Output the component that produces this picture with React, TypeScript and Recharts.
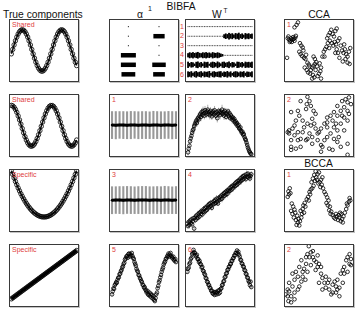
import React from 'react'
import { ScatterChart, Scatter, XAxis, YAxis, ErrorBar } from 'recharts'

// grid of small panels
const PW = 70
const PH = 63
const colLeft = [9, 109, 185, 284]
const rowTop = [19, 94, 169, 244]
const RED = '#e03c3c'
const INK = '#111'

// true components, sampled on a common grid
const curveX = [2, 4, 6, 8, 10, 12, 14, 16, 18, 20, 22, 24, 26, 28, 30, 32, 34, 36, 38, 40, 42, 44, 46, 48, 50, 52, 54, 56, 58, 60, 62, 64, 66, 68, 70, 72, 74, 76, 78, 80, 82, 84, 86, 88, 90, 92, 94, 96, 98]
const sharedA = [44.5, 51.8, 59.1, 65.9, 72.0, 77.1, 80.8, 83.2, 84.0, 83.2, 80.9, 77.1, 72.0, 65.9, 59.1, 51.8, 44.5, 37.4, 30.9, 25.3, 20.9, 17.8, 16.2, 16.2, 17.8, 20.9, 25.3, 30.9, 37.4, 44.5, 51.7, 59.1, 65.9, 72.0, 77.1, 80.8, 83.2, 84.0, 83.2, 80.9, 77.1, 72.0, 65.9, 59.1, 51.8, 44.5, 37.4, 30.9, 25.3]
const sharedB = [83.0, 82.2, 80.0, 76.4, 71.6, 65.7, 59.2, 52.2, 45.1, 38.1, 31.7, 26.2, 21.6, 18.3, 16.4, 16.0, 17.2, 19.8, 23.7, 28.8, 34.9, 41.6, 48.6, 55.7, 62.5, 68.8, 74.1, 78.4, 81.3, 82.8, 82.8, 81.3, 78.4, 74.1, 68.8, 62.5, 55.7, 48.6, 41.6, 34.9, 28.8, 23.7, 19.8, 17.2, 16.0, 16.4, 18.3, 21.6, 26.2]
const specificA = [99.0, 92.8, 86.9, 81.2, 75.8, 70.6, 65.8, 61.1, 56.8, 52.7, 48.9, 45.3, 42.0, 39.0, 36.2, 33.7, 31.4, 29.5, 27.8, 26.3, 25.1, 24.2, 23.5, 23.1, 23.0, 23.1, 23.5, 24.2, 25.1, 26.3, 27.8, 29.5, 31.4, 33.7, 36.2, 39.0, 42.0, 45.3, 48.9, 52.7, 56.8, 61.1, 65.8, 70.6, 75.8, 81.2, 86.9, 92.8, 99.0]
const specificB = [11.7, 13.3, 15.0, 16.6, 18.3, 19.9, 21.6, 23.2, 24.9, 26.5, 28.2, 29.8, 31.5, 33.1, 34.8, 36.4, 38.1, 39.7, 41.4, 43.0, 44.7, 46.3, 48.0, 49.6, 51.3, 52.9, 54.6, 56.2, 57.9, 59.5, 61.2, 62.8, 64.5, 66.1, 67.8, 69.4, 71.1, 72.7, 74.4, 76.0, 77.7, 79.3, 81.0, 82.6, 84.3, 85.9, 87.6, 89.2, 90.9]

// alpha (Hinton), two groups x six components
const alphaCol1 = [0.02, 0.02, 0.02, 1.0, 1.0, 0.92]
const alphaCol2 = [0.02, 0.75, 0.02, 0.02, 0.9, 0.78]

// W^T loadings per component
const wRow1 = [0.02, 0.03, 0.01, 0.02, 0.04, 0.02, 0.03, 0.01, 0.02, 0.03, 0.02, 0.01, 0.03, 0.02, 0.04, 0.02, 0.01, 0.03, 0.02, 0.02, 0.03, 0.01, 0.02, 0.04, 0.02, 0.03, 0.01, 0.02, 0.03, 0.02, 0.01, 0.03, 0.02, 0.04, 0.02, 0.01, 0.03, 0.02, 0.02, 0.03]
const wRow2 = [0.02, 0.01, 0.03, 0.02, 0.02, 0.04, 0.01, 0.02, 0.03, 0.02, 0.01, 0.02, 0.03, 0.02, 0.04, 0.01, 0.02, 0.03, 0.02, 0.01, 0.03, 0.02, 0.55, 0.8, 0.6, 0.95, 0.7, 0.85, 0.5, 0.9, 0.75, 1.0, 0.6, 0.8, 0.45, 0.9, 0.7, 0.85, 0.6, 0.75]
const wRow3 = [0.03, 0.02, 0.01, 0.03, 0.02, 0.02, 0.04, 0.01, 0.02, 0.03, 0.02, 0.02, 0.01, 0.03, 0.02, 0.04, 0.02, 0.01, 0.03, 0.02, 0.02, 0.03, 0.01, 0.02, 0.03, 0.02, 0.04, 0.01, 0.02, 0.03, 0.02, 0.02, 0.01, 0.03, 0.02, 0.04, 0.02, 0.01, 0.03, 0.02]
const wRow4 = [0.6, 0.85, 0.7, 0.9, 0.65, 0.8, 0.95, 0.7, 0.6, 0.85, 0.75, 0.9, 0.7, 0.8, 0.55, 0.9, 0.75, 0.65, 0.85, 0.7, 0.5, 0.35, 0.02, 0.03, 0.01, 0.02, 0.03, 0.02, 0.04, 0.01, 0.02, 0.03, 0.02, 0.01, 0.03, 0.02, 0.02, 0.03, 0.01, 0.02]
const wRow5 = [0.9, 0.5, 0.8, 0.7, 0.35, 0.85, 0.95, 0.6, 0.8, 0.4, 0.9, 0.75, 0.85, 0.3, 0.7, 0.9, 0.8, 0.55, 0.95, 0.7, 0.4, 0.85, 0.9, 0.6, 0.75, 0.95, 0.5, 0.8, 0.7, 0.35, 0.9, 0.85, 0.6, 0.8, 0.45, 0.9, 0.75, 0.85, 0.7, 0.9]
const wRow6 = [0.85, 0.7, 0.9, 0.45, 0.8, 0.95, 0.6, 0.75, 0.9, 0.5, 0.85, 0.7, 0.8, 0.95, 0.4, 0.8, 0.9, 0.65, 0.75, 0.85, 0.9, 0.5, 0.8, 0.7, 0.95, 0.6, 0.85, 0.4, 0.75, 0.9, 0.8, 0.55, 0.85, 0.7, 0.9, 0.45, 0.8, 0.75, 0.6, 0.85]

// inactive components 1 and 3: posterior mean and std
const alpha1Mean = [0.03, 0.02, 0.04, 0.03, 0.02, 0.03, 0.04, 0.02, 0.03, 0.03, 0.02, 0.04, 0.03, 0.02, 0.03, 0.04, 0.02, 0.03]
const alpha1Err = [1.0, 1.01, 0.99, 1.0, 1.0, 1.01, 0.99, 1.0, 1.0, 1.0, 0.99, 1.01, 1.0, 1.0, 0.99, 1.0, 1.01, 1.0]
const alpha3Mean = [0.02, 0.03, 0.03, 0.02, 0.04, 0.03, 0.02, 0.03, 0.03, 0.04, 0.02, 0.03, 0.03, 0.02, 0.04, 0.03, 0.02, 0.03]
const alpha3Err = [1.0, 0.99, 1.0, 1.01, 1.0, 1.0, 0.99, 1.0, 1.01, 1.0, 1.0, 0.99, 1.0, 1.0, 1.01, 1.0, 0.99, 1.0]

// recovered components: [x, y, std]
const alpha5Pts = [[3, 19, 3], [4, 24, 3], [5, 29, 2], [6, 28, 3], [7, 34, 2], [8, 36, 3], [9, 39, 2], [10, 38, 3], [11, 43, 2], [12, 46, 3], [13, 47, 2], [14, 52, 3], [15, 53, 2], [16, 57, 3], [17, 59, 2], [18, 63, 3], [19, 65, 3], [20, 69, 2], [21, 71, 3], [22, 76, 3], [23, 78, 2], [24, 81, 3], [25, 82, 3], [26, 79, 3], [27, 85, 2], [28, 86, 3], [29, 81, 3], [30, 85, 2], [31, 83, 3], [32, 87, 3], [33, 82, 2], [34, 79, 3], [35, 77, 3], [36, 72, 2], [37, 69, 3], [38, 66, 2], [39, 61, 3], [40, 58, 3], [41, 56, 2], [42, 51, 3], [43, 50, 2], [44, 46, 3], [45, 44, 2], [46, 41, 3], [47, 39, 2], [48, 35, 3], [49, 34, 2], [50, 30, 3], [51, 31, 2], [52, 27, 3], [53, 25, 2], [54, 22, 3], [55, 25, 2], [56, 19, 3], [57, 18, 2], [58, 22, 3], [59, 16, 2], [60, 20, 3], [61, 14, 2], [62, 18, 3], [63, 12, 2], [64, 16, 3], [65, 10, 3], [66, 8, 2], [67, 13, 3], [68, 19, 3], [69, 22, 2], [70, 29, 3], [71, 33, 2], [72, 39, 3], [73, 42, 2], [74, 47, 3], [75, 51, 2], [76, 56, 3], [77, 60, 2], [78, 63, 3], [79, 68, 2], [80, 71, 3], [81, 73, 2], [82, 77, 3], [83, 78, 2], [84, 81, 3], [85, 83, 2], [86, 86, 3], [87, 81, 2], [88, 84, 3], [89, 87, 2], [90, 82, 3], [91, 80, 2], [92, 78, 3], [93, 81, 2], [94, 76, 3], [95, 74, 2], [96, 77, 3], [97, 72, 2]]
const w2Pts = [[3, 6, 5], [4, 12, 4], [5, 17, 5], [6, 24, 4], [7, 29, 6], [8, 33, 5], [9, 38, 4], [10, 42, 6], [11, 44, 5], [12, 49, 4], [13, 52, 6], [14, 55, 5], [15, 58, 4], [16, 54, 6], [17, 61, 5], [18, 63, 7], [19, 60, 5], [20, 66, 6], [21, 69, 5], [22, 64, 7], [23, 72, 6], [24, 67, 5], [25, 74, 7], [26, 70, 5], [27, 66, 6], [28, 75, 7], [29, 71, 5], [30, 68, 6], [31, 73, 5], [32, 76, 8], [33, 69, 6], [34, 72, 5], [35, 67, 7], [36, 74, 6], [37, 70, 5], [38, 65, 6], [39, 71, 7], [40, 73, 5], [41, 68, 6], [42, 75, 7], [43, 70, 5], [44, 66, 6], [45, 72, 5], [46, 62, 7], [47, 69, 6], [48, 74, 5], [49, 71, 6], [50, 67, 7], [51, 73, 5], [52, 70, 6], [53, 76, 8], [54, 69, 5], [55, 72, 6], [56, 66, 7], [57, 74, 5], [58, 70, 6], [59, 64, 5], [60, 71, 7], [61, 68, 6], [62, 73, 5], [63, 65, 6], [64, 70, 7], [65, 62, 5], [66, 67, 6], [67, 64, 5], [68, 60, 7], [69, 63, 5], [70, 58, 6], [71, 61, 5], [72, 55, 6], [73, 57, 5], [74, 52, 6], [75, 54, 5], [76, 49, 6], [77, 51, 5], [78, 46, 6], [79, 44, 5], [80, 47, 6], [81, 41, 5], [82, 38, 6], [83, 40, 5], [84, 35, 6], [85, 36, 5], [86, 31, 6], [87, 28, 5], [88, 26, 6], [89, 22, 5], [90, 18, 6], [91, 14, 5], [92, 11, 4], [93, 8, 5], [94, 6, 4], [95, 4, 4], [96, 3, 3]]
const w4Pts = [[2, 12, 5], [3, 8, 4], [4, 15, 5], [5, 10, 6], [6, 17, 5], [7, 13, 4], [8, 19, 5], [9, 11, 6], [10, 16, 5], [11, 21, 4], [12, 4, 5], [13, 22, 6], [14, 18, 5], [15, 25, 4], [16, 21, 5], [17, 27, 6], [18, 22, 5], [19, 29, 4], [20, 24, 5], [21, 31, 6], [22, 28, 5], [23, 33, 4], [24, 27, 5], [25, 32, 6], [26, 36, 5], [27, 31, 4], [28, 38, 5], [29, 33, 6], [30, 39, 5], [31, 35, 4], [32, 42, 5], [33, 38, 6], [34, 44, 5], [35, 40, 4], [36, 46, 5], [37, 41, 6], [38, 38, 5], [39, 47, 4], [40, 44, 5], [41, 49, 6], [42, 45, 5], [43, 51, 4], [44, 46, 5], [45, 53, 6], [46, 48, 5], [47, 45, 4], [48, 54, 5], [49, 51, 6], [50, 56, 5], [51, 52, 4], [52, 58, 5], [53, 53, 6], [54, 60, 5], [55, 57, 4], [56, 62, 5], [57, 58, 6], [58, 64, 5], [59, 60, 4], [60, 66, 5], [61, 61, 6], [62, 67, 5], [63, 65, 4], [64, 70, 5], [65, 66, 6], [66, 72, 5], [67, 68, 4], [68, 74, 5], [69, 70, 6], [70, 75, 5], [71, 73, 4], [72, 78, 5], [73, 74, 6], [74, 80, 5], [75, 76, 4], [76, 82, 5], [77, 78, 6], [78, 83, 5], [79, 80, 4], [80, 86, 5], [81, 82, 6], [82, 88, 5], [83, 84, 4], [84, 90, 5], [85, 86, 6], [86, 91, 5], [87, 88, 4], [88, 85, 5], [89, 93, 6], [90, 89, 5], [91, 94, 4], [92, 88, 5], [93, 91, 6], [94, 86, 5], [95, 90, 4], [96, 93, 5]]
const w6Pts = [[2, 56, 3], [3, 61, 3], [4, 63, 3], [5, 69, 2], [6, 71, 3], [7, 77, 2], [8, 79, 3], [9, 85, 2], [10, 87, 3], [11, 92, 2], [12, 88, 3], [13, 87, 2], [14, 83, 3], [15, 81, 2], [16, 84, 3], [17, 77, 2], [18, 77, 3], [19, 72, 2], [20, 74, 3], [21, 69, 2], [22, 68, 3], [23, 63, 2], [24, 64, 3], [25, 58, 2], [26, 57, 3], [27, 53, 2], [28, 51, 3], [29, 46, 2], [30, 45, 3], [31, 40, 2], [32, 39, 3], [33, 35, 2], [34, 34, 3], [35, 30, 2], [36, 29, 3], [37, 25, 2], [38, 25, 3], [39, 21, 2], [40, 20, 3], [41, 23, 2], [42, 18, 3], [43, 22, 2], [44, 23, 3], [45, 19, 2], [46, 22, 3], [47, 25, 2], [48, 20, 3], [49, 26, 2], [50, 22, 3], [51, 28, 2], [52, 29, 3], [53, 34, 2], [54, 35, 3], [55, 40, 2], [56, 41, 3], [57, 47, 2], [58, 48, 3], [59, 53, 2], [60, 54, 3], [61, 59, 2], [62, 60, 3], [63, 64, 2], [64, 65, 3], [65, 69, 2], [66, 69, 3], [67, 74, 2], [68, 74, 3], [69, 78, 2], [70, 79, 3], [71, 83, 2], [72, 83, 3], [73, 87, 2], [74, 87, 3], [75, 91, 2], [76, 86, 3], [77, 89, 2], [78, 84, 3], [79, 81, 2], [80, 76, 3], [81, 75, 2], [82, 70, 3], [83, 69, 2], [84, 65, 3], [85, 64, 2], [86, 59, 3], [87, 58, 2], [88, 53, 3], [89, 52, 2], [90, 47, 3], [91, 46, 2], [92, 41, 3], [93, 39, 2], [94, 34, 3], [95, 40, 2], [96, 31, 3]]

// CCA / BCCA projections: [x, y]
const cca1Pts = [[17, 92], [19, 96], [14, 88], [4, 70], [6, 68], [8, 66], [9, 70], [11, 68], [12, 72], [14, 66], [7, 64], [10, 64], [13, 69], [15, 71], [16, 74], [5, 73], [3, 38], [22, 62], [24, 58], [26, 55], [27, 50], [21, 48], [23, 44], [25, 41], [28, 38], [30, 36], [31, 43], [33, 30], [35, 27], [36, 24], [29, 22], [32, 18], [34, 14], [37, 12], [38, 18], [40, 22], [42, 25], [44, 28], [46, 31], [47, 24], [45, 18], [41, 10], [43, 6], [48, 8], [50, 12], [52, 16], [53, 22], [51, 29], [44, 36], [42, 40], [55, 40], [57, 48], [59, 52], [61, 56], [58, 40], [53, 4], [40, 4], [62, 70], [64, 75], [66, 79], [68, 84], [70, 77], [72, 73], [74, 82], [76, 86], [66, 66], [69, 62], [71, 58], [73, 64], [75, 60], [78, 66], [80, 70], [82, 58], [84, 50], [86, 46], [88, 52], [90, 44], [92, 40], [94, 48], [96, 54], [89, 36], [85, 32], [80, 38], [78, 46], [92, 30], [95, 28], [76, 52], [74, 46], [87, 60], [63, 62], [65, 54]]
const cca2Pts = [[33, 97], [36, 90], [32, 85], [23, 90], [9, 72], [21, 66], [19, 74], [31, 77], [38, 82], [42, 74], [45, 69], [26, 58], [33, 53], [40, 61], [43, 53], [14, 50], [4, 39], [6, 37], [9, 26], [14, 34], [19, 39], [23, 28], [31, 26], [36, 37], [40, 31], [48, 37], [53, 45], [58, 53], [62, 63], [67, 66], [72, 72], [77, 66], [82, 74], [87, 80], [92, 88], [97, 85], [94, 96], [89, 93], [84, 90], [77, 82], [70, 58], [75, 53], [62, 47], [67, 37], [72, 28], [77, 23], [82, 15], [92, 2], [53, 7], [53, 18], [48, 26], [58, 26], [62, 31], [55, 15], [65, 12], [87, 63], [92, 58], [82, 53], [72, 47], [9, 10], [16, 12], [23, 15], [9, 15], [6, 42], [11, 45], [28, 47], [38, 50], [45, 45], [50, 39], [33, 28], [19, 26], [62, 55], [77, 42], [87, 42], [94, 69], [92, 74], [84, 66], [79, 31], [92, 20], [70, 10], [40, 20], [26, 39], [16, 58]]
const bcca1Pts = [[5, 65], [6, 60], [4, 56], [7, 70], [8, 62], [10, 45], [12, 40], [9, 33], [11, 28], [14, 35], [15, 30], [13, 22], [16, 18], [18, 25], [19, 14], [20, 20], [21, 9], [17, 10], [22, 16], [24, 22], [25, 28], [23, 33], [26, 36], [27, 42], [29, 46], [30, 40], [28, 30], [32, 52], [34, 56], [35, 50], [37, 60], [36, 64], [38, 68], [40, 70], [42, 74], [39, 80], [41, 86], [44, 82], [46, 88], [48, 93], [50, 96], [47, 84], [49, 78], [51, 80], [53, 84], [55, 88], [52, 72], [54, 76], [43, 92], [45, 98], [56, 70], [58, 64], [60, 60], [62, 55], [64, 50], [61, 46], [63, 42], [66, 40], [65, 34], [67, 28], [68, 32], [70, 26], [72, 22], [74, 20], [76, 24], [78, 18], [80, 22], [82, 16], [84, 20], [86, 24], [83, 28], [81, 30], [79, 26], [85, 14], [75, 28], [88, 30], [90, 36], [92, 42], [94, 48], [95, 54], [96, 50], [91, 45]]
const bcca2Pts = [[5, 8], [9, 16], [4, 27], [11, 32], [6, 38], [14, 43], [19, 48], [11, 53], [26, 56], [21, 64], [31, 69], [36, 80], [33, 85], [38, 88], [35, 98], [41, 80], [43, 75], [46, 72], [48, 64], [50, 69], [45, 59], [53, 53], [55, 46], [58, 38], [60, 30], [63, 38], [65, 27], [68, 19], [70, 22], [75, 32], [73, 40], [77, 27], [80, 16], [82, 53], [85, 59], [87, 64], [90, 75], [92, 80], [95, 69], [97, 67], [14, 11], [9, 6], [19, 27], [24, 40], [26, 48], [1, 19], [4, 16], [30, 43], [16, 56], [28, 61], [24, 75], [31, 80], [41, 90], [48, 83], [53, 64], [60, 48], [65, 43], [70, 35], [75, 22], [80, 30], [85, 38], [77, 43], [87, 53], [92, 56], [97, 77], [95, 85], [14, 22], [6, 24], [21, 32], [55, 27], [50, 38], [33, 56], [38, 67]]

const curve = (ys: number[]) => curveX.map((x, i) => ({ x, y: ys[i] }))
const pairs = (pts: number[][]) => pts.map(([x, y]) => ({ x, y }))
const triples = (pts: number[][]) => pts.map(([x, y, e]) => ({ x, y, e }))
const wData = (row: number[], k: number) => row.map((a, i) => ({ x: i + 1, y: k, a }))
const hinton = (vals: number[], col: number) => vals.map((v, i) => ({ x: col, y: i + 1, v }))
const bars = (m: number[], s: number[]) => m.map((y, i) => ({ x: i + 1, y, e: s[i] }))

const ring = (r: number) => (p: any) => <circle cx={p.cx} cy={p.cy} r={r} fill="none" stroke="#000" strokeWidth={0.8} />
const dot = (p: any) => <circle cx={p.cx} cy={p.cy} r={1.3} fill="#000" />
const hintonBox = (p: any) => {
  const v = p.payload.v
  const w = v > 0.1 ? 15 * v : 1
  const h = v > 0.1 ? 4.5 : 1
  return <rect x={p.cx - w / 2} y={p.cy - h / 2} width={w} height={h} fill="#000" />
}
const loading = (p: any) => {
  const a = p.payload.a
  const big = a > 0.1
  const h = big ? 7 * a : 0.8
  const w = big ? 1.8 : 0.9
  return <rect x={p.cx - w / 2} y={p.cy - h / 2} width={w} height={h} fill="#000" />
}

type PanelProps = {
  col: number
  row: number
  xDomain?: [number, number]
  yDomain?: [number, number]
  reversed?: boolean
  children: React.ReactNode
}

function Panel({ col, row, xDomain = [0, 100], yDomain = [0, 100], reversed = false, children }: PanelProps) {
  return (
    <div
      style={{
        position: 'absolute',
        left: colLeft[col],
        top: rowTop[row],
        width: PW,
        height: PH,
        boxSizing: 'border-box',
        border: '1px solid #3a3a3a',
        boxShadow: '1px 1px 0 #c4c4c4',
        overflow: 'hidden',
        background: '#fff',
      }}
    >
      <ScatterChart width={PW - 2} height={PH - 2} margin={{ top: 0, right: 0, bottom: 0, left: 0 }}>
        <XAxis type="number" dataKey="x" domain={xDomain} hide allowDataOverflow />
        <YAxis type="number" dataKey="y" domain={yDomain} reversed={reversed} hide allowDataOverflow />
        {children}
      </ScatterChart>
    </div>
  )
}

const trueLine = { stroke: '#111', strokeWidth: 1.6 }

const panelLabels: [number, number, string][] = [
  [0, 0, 'Shared'], [3, 0, '1'],
  [0, 1, 'Shared'], [1, 1, '1'], [2, 1, '2'], [3, 1, '2'],
  [0, 2, 'Specific'], [1, 2, '3'], [2, 2, '4'], [3, 2, '1'],
  [0, 3, 'Specific'], [1, 3, '5'], [2, 3, '6'], [3, 3, '2'],
]
const wRowLabels = ['1', '2', '3', '4', '5', '6']

export default function App() {
  const font = "'Liberation Sans', Arial, sans-serif"
  return (
    <div style={{ position: 'absolute', left: 0, top: 0, width: 358, height: 310, background: '#fff' }}>
      {/* true components */}
      <Panel col={0} row={0}>
        <Scatter data={curve(sharedA)} shape={ring(2.2)} line={trueLine} isAnimationActive={false} />
      </Panel>
      <Panel col={0} row={1}>
        <Scatter data={curve(sharedB)} shape={ring(2.2)} line={trueLine} isAnimationActive={false} />
      </Panel>
      <Panel col={0} row={2}>
        <Scatter data={curve(specificA)} shape={ring(2.2)} line={trueLine} isAnimationActive={false} />
      </Panel>
      <Panel col={0} row={3}>
        <Scatter data={curve(specificB)} shape={ring(2.2)} line={{ stroke: '#000', strokeWidth: 3 }} isAnimationActive={false} />
      </Panel>

      {/* BIBFA alpha */}
      <Panel col={1} row={0} xDomain={[0.4, 2.62]} yDomain={[0.3, 6.7]} reversed>
        <Scatter data={hinton(alphaCol1, 1)} shape={hintonBox} isAnimationActive={false} />
        <Scatter data={hinton(alphaCol2, 2)} shape={hintonBox} isAnimationActive={false} />
      </Panel>
      <Panel col={1} row={1} xDomain={[0.46, 18.54]} yDomain={[-2.2, 2.2]}>
        <Scatter data={bars(alpha1Mean, alpha1Err)} shape={dot} line={{ stroke: '#000', strokeWidth: 3 }} isAnimationActive={false}>
          <ErrorBar dataKey="e" direction="y" width={0} stroke="#999" strokeWidth={2.1} />
        </Scatter>
      </Panel>
      <Panel col={1} row={2} xDomain={[0.46, 18.54]} yDomain={[-2.2, 2.2]}>
        <Scatter data={bars(alpha3Mean, alpha3Err)} shape={dot} line={{ stroke: '#000', strokeWidth: 3 }} isAnimationActive={false}>
          <ErrorBar dataKey="e" direction="y" width={0} stroke="#999" strokeWidth={2.1} />
        </Scatter>
      </Panel>
      <Panel col={1} row={3}>
        <Scatter data={triples(alpha5Pts)} shape={ring(1.8)} isAnimationActive={false}>
          <ErrorBar dataKey="e" direction="y" width={0} stroke="#999" strokeWidth={0.8} />
        </Scatter>
      </Panel>

      {/* BIBFA W^T */}
      <Panel col={2} row={0} xDomain={[-0.25, 41.25]} yDomain={[0.3, 6.7]} reversed>
        <Scatter data={wData(wRow1, 1)} shape={loading} isAnimationActive={false} />
        <Scatter data={wData(wRow2, 2)} shape={loading} isAnimationActive={false} />
        <Scatter data={wData(wRow3, 3)} shape={loading} isAnimationActive={false} />
        <Scatter data={wData(wRow4, 4)} shape={loading} isAnimationActive={false} />
        <Scatter data={wData(wRow5, 5)} shape={loading} isAnimationActive={false} />
        <Scatter data={wData(wRow6, 6)} shape={loading} isAnimationActive={false} />
      </Panel>
      <Panel col={2} row={1}>
        <Scatter data={triples(w2Pts)} shape={ring(1.8)} isAnimationActive={false}>
          <ErrorBar dataKey="e" direction="y" width={0} stroke="#999" strokeWidth={0.8} />
        </Scatter>
      </Panel>
      <Panel col={2} row={2}>
        <Scatter data={triples(w4Pts)} shape={ring(1.8)} isAnimationActive={false}>
          <ErrorBar dataKey="e" direction="y" width={0} stroke="#999" strokeWidth={0.8} />
        </Scatter>
      </Panel>
      <Panel col={2} row={3}>
        <Scatter data={triples(w6Pts)} shape={ring(1.8)} isAnimationActive={false}>
          <ErrorBar dataKey="e" direction="y" width={0} stroke="#999" strokeWidth={0.8} />
        </Scatter>
      </Panel>

      {/* CCA and BCCA */}
      <Panel col={3} row={0}>
        <Scatter data={pairs(cca1Pts)} shape={ring(1.8)} isAnimationActive={false} />
      </Panel>
      <Panel col={3} row={1}>
        <Scatter data={pairs(cca2Pts)} shape={ring(1.8)} isAnimationActive={false} />
      </Panel>
      <Panel col={3} row={2}>
        <Scatter data={pairs(bcca1Pts)} shape={ring(1.8)} isAnimationActive={false} />
      </Panel>
      <Panel col={3} row={3}>
        <Scatter data={pairs(bcca2Pts)} shape={ring(1.8)} isAnimationActive={false} />
      </Panel>

      <svg width={358} height={310} style={{ position: 'absolute', left: 0, top: 0, pointerEvents: 'none' }} fontFamily={font}>
        <text x={3} y={17.5} fontSize={10.3} fill={INK}>True components</text>
        <text x={181} y={9.6} fontSize={10.3} fill={INK} textAnchor="middle">BIBFA</text>
        <text x={137} y={17.5} fontSize={10.3} fill={INK}>α</text>
        <text x={148} y={11} fontSize={7} fill={INK}>1</text>
        <text x={212} y={17.5} fontSize={10.3} fill={INK}>W</text>
        <text x={223.5} y={12.5} fontSize={6.5} fill={INK}>T</text>
        <text x={319} y={17.5} fontSize={10.3} fill={INK} textAnchor="middle">CCA</text>
        <text x={318.5} y={167} fontSize={10.3} fill={INK} textAnchor="middle">BCCA</text>
        {panelLabels.map(([c, r, t], i) => (
          <text key={i} x={colLeft[c] + 3} y={rowTop[r] + 8} fontSize={7} fill={RED}>{t}</text>
        ))}
        {wRowLabels.map((t, i) => (
          <text key={t} x={180} y={28.5 + i * 9.6} fontSize={7} fill={RED}>{t}</text>
        ))}
      </svg>
    </div>
  )
}
